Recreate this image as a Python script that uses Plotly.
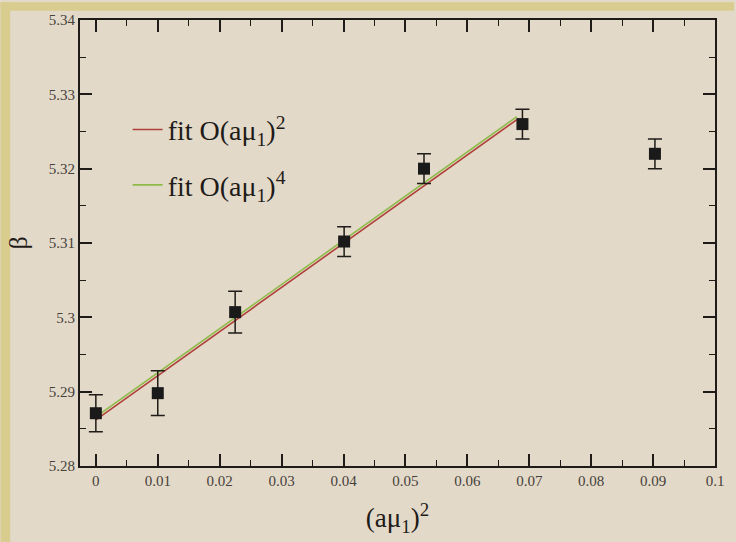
import plotly.graph_objects as go

# Measured beta values against (a mu_I)^2
mu2 = [0.0, 0.0100, 0.0225, 0.0401, 0.0530, 0.0689, 0.0903]
beta = [5.2871, 5.2898, 5.3007, 5.3102, 5.3200, 5.3260, 5.3220]
beta_err = [0.0025, 0.0030, 0.0028, 0.0020, 0.0020, 0.0020, 0.0020]

# Fit curves evaluated at their end points
fit2_x = [0.0, 0.068]
fit2_y = [5.2862, 5.3266]
fit4_x = [0.0, 0.068]
fit4_y = [5.2866, 5.3270]

x_ticks = [0, 0.01, 0.02, 0.03, 0.04, 0.05, 0.06, 0.07, 0.08, 0.09, 0.1]
x_labels = ["0", "0.01", "0.02", "0.03", "0.04", "0.05", "0.06", "0.07", "0.08", "0.09", "0.1"]
y_ticks = [5.28, 5.29, 5.30, 5.31, 5.32, 5.33, 5.34]
y_labels = ["5.28", "5.29", "5.3", "5.31", "5.32", "5.33", "5.34"]

bg = "#e3d9c8"
ink = "#1e1b18"
serif = "Liberation Serif, Times New Roman, serif"

fig = go.Figure()

fig.add_trace(go.Scatter(
    x=fit2_x, y=fit2_y, mode="lines",
    line=dict(color="#b0403a", width=1.6),
    name="fit O(aμ<sub>1</sub>)<sup>2</sup>", legendgroup="a",
))
fig.add_trace(go.Scatter(
    x=fit4_x, y=fit4_y, mode="lines",
    line=dict(color="#8dbb4a", width=1.6),
    name="fit O(aμ<sub>1</sub>)<sup>4</sup>", legendgroup="b",
))
fig.add_trace(go.Scatter(
    x=mu2, y=beta, mode="markers",
    marker=dict(symbol="square", size=12, color="#1a1a1a"),
    error_y=dict(type="data", array=beta_err, visible=True,
                 color=ink, thickness=1.5, width=7),
    showlegend=False,
))

axis_common = dict(
    showline=True, linecolor=ink, linewidth=2, mirror="ticks",
    ticks="inside", tickcolor=ink, tickwidth=1.5, ticklen=12,
    showgrid=False, zeroline=False,
    tickfont=dict(family=serif, size=15, color="#46413c"),
)

fig.update_xaxes(
    range=[-0.00256, 0.1], tickvals=x_ticks, ticktext=x_labels,
    minor=dict(ticks="inside", ticklen=6, tickcolor=ink, tickwidth=1.2, dtick=0.005, showgrid=False),
    title=dict(text="(aμ<sub>1</sub>)<sup>2</sup>", font=dict(family=serif, size=27, color=ink), standoff=20),
    **axis_common,
)
fig.update_yaxes(
    range=[5.28, 5.34], tickvals=y_ticks, ticktext=y_labels,
    minor=dict(ticks="inside", ticklen=6, tickcolor=ink, tickwidth=1.2, dtick=0.005, showgrid=False),
    title=dict(text="β", font=dict(family=serif, size=26, color=ink), standoff=14),
    **axis_common,
)

fig.update_layout(
    width=736, height=542,
    margin=dict(l=80, r=13, t=17, b=76),
    paper_bgcolor=bg, plot_bgcolor=bg,
    showlegend=True,
    legend=dict(
        x=0.075, y=0.81, xanchor="left", yanchor="top",
        bgcolor="rgba(0,0,0,0)", borderwidth=0,
        font=dict(family=serif, size=28, color=ink),
        tracegroupgap=16, itemwidth=30,
    ),
    shapes=[
        dict(type="rect", xref="paper", yref="paper", x0=-0.125, x1=-0.110, y0=-0.2, y1=1.04,
             fillcolor="#d8cd8e", line=dict(width=0), layer="below"),
        dict(type="rect", xref="paper", yref="paper", x0=-0.125, x1=1.03, y0=1.021, y1=1.04,
             fillcolor="#d8cd8e", line=dict(width=0), layer="below"),
    ],
)

fig.write_html("out.html")
